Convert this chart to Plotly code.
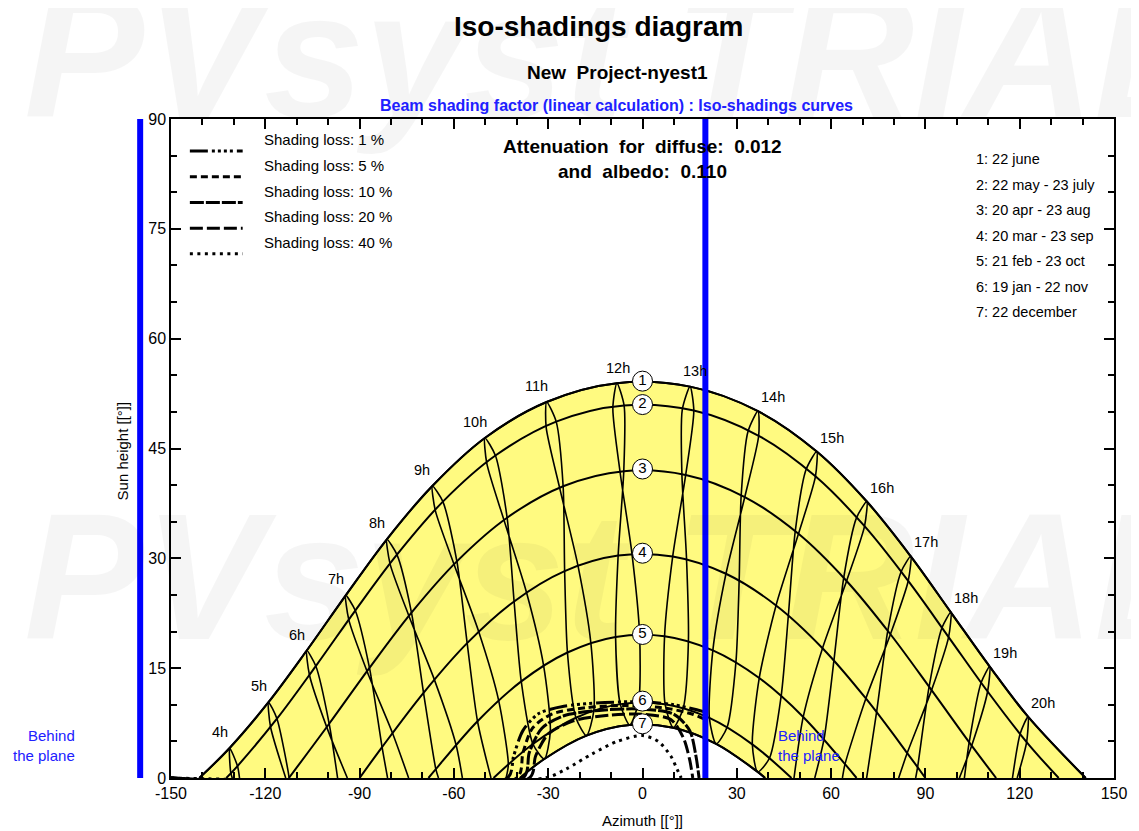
import plotly.graph_objects as go

# ---------------- data ----------------
hours = list(range(4, 21))
hour_labels = [f"{t}h" for t in hours]

x_ticks = [-150, -120, -90, -60, -30, 0, 30, 60, 90, 120, 150]
x_tick_text = ["-150", "-120", "-90", "-60", "-30", "0", "30", "60", "90", "120", "150"]
y_ticks = [0, 15, 30, 45, 60, 75, 90]

date_labels = ["1: 22 june", "2: 22 may - 23 july", "3: 20 apr - 23 aug",
               "4: 20 mar - 23 sep", "5: 21 feb - 23 oct", "6: 19 jan - 22 nov",
               "7: 22 december"]
rise_az = [141.0, 132.4, 112.5, 90.0, 68.1, 47.4, 39.0]
circle_h = [54.2, 51.0, 42.2, 30.7, 19.6, 10.5, 7.4]
N = None

# sun positions at each legal hour 4h..20h  (azimuth, height)
c1_az = [-131.34, -118.98, -106.80, -94.41, -81.33, -66.86, -50.15, -30.51, -8.14,
         15.13, 36.74, 55.43, 71.36, 85.35, 98.10, 110.45, 122.65]
c1_h = [4.10, 10.35, 17.41, 24.94, 32.60, 39.88, 46.44, 51.35, 53.92,
        53.45, 50.10, 44.59, 37.76, 30.27, 22.63, 15.22, 8.38]

c2a_az = [-128.85, -116.29, -103.93, -91.38, -78.12, -63.50, -46.79, -27.46, -5.86,
          16.32, 36.96, 55.02, 70.64, 84.53, 97.38, 109.79, 122.20]
c2a_h = [1.63, 8.10, 15.29, 22.87, 30.50, 37.75, 44.04, 48.67, 50.88,
         50.18, 46.74, 41.20, 34.39, 26.91, 19.25, 11.81, 4.91]
c2b_az = [-130.99, -118.36, -105.97, -93.45, -80.31, -65.92, -49.55, -30.66, -9.43,
          12.66, 33.56, 52.04, 68.07, 82.24, 95.26, 107.74, 120.15]
c2b_h = [0.74, 7.03, 14.10, 21.62, 29.24, 36.55, 43.00, 47.91, 50.52,
         50.30, 47.31, 42.12, 35.52, 28.14, 20.51, 13.03, 6.05]

c3a_az = [N, -112.46, -99.68, -86.86, -73.50, -59.05, -43.07, -25.25, -5.96,
          13.74, 32.54, 49.62, 64.93, 78.88, 91.96, 104.72, N]
c3a_h = [N, 0.05, 7.41, 15.04, 22.59, 29.59, 35.55, 39.85, 41.91,
         41.39, 38.37, 33.35, 26.91, 19.63, 12.00, 4.42, N]
c3b_az = [N, N, -100.46, -87.64, -74.31, -59.94, -44.05, -26.34, -7.14,
          12.54, 31.39, 48.58, 64.00, 78.03, 91.17, 103.94, N]
c3b_h = [N, N, 6.95, 14.58, 22.13, 29.16, 35.19, 39.59, 41.79,
         41.43, 38.57, 33.66, 27.31, 20.08, 12.46, 4.89, N]

c4a_az = [N, N, N, -82.85, -69.66, -55.78, -40.85, -24.77, -7.75,
          9.61, 26.55, 42.49, 57.27, 71.06, 84.21, N, N]
c4a_h = [N, N, N, 4.22, 11.64, 18.42, 24.11, 28.25, 30.38,
         30.26, 27.89, 23.57, 17.73, 10.86, 3.41, N, N]
c4b_az = [N, N, N, -79.54, -66.25, -52.15, -36.94, -20.58, -3.37,
          14.00, 30.76, 46.42, 60.92, 74.48, 87.52, N, N]
c4b_h = [N, N, N, 6.15, 13.47, 20.04, 25.41, 29.10, 30.69,
         29.99, 27.07, 22.29, 16.13, 9.04, 1.48, N, N]

c5a_az = [N, N, N, N, -65.75, -52.49, -38.57, -23.88, -8.56,
          7.02, 22.38, 37.14, 51.13, 64.43, N, N, N]
c5a_h = [N, N, N, N, 1.21, 7.75, 13.19, 17.14, 19.27,
         19.37, 17.43, 13.65, 8.34, 1.89, N, N, N]
c5b_az = [N, N, N, N, -59.32, -45.77, -31.47, -16.44, -0.93,
          14.61, 29.73, 44.13, 57.76, N, N, N, N]
c5b_h = [N, N, N, N, 4.55, 10.61, 15.37, 18.48, 19.63,
         18.72, 15.85, 11.26, 5.33, N, N, N, N]

c6a_az = [N, N, N, N, N, N, -34.86, -21.18, -7.08,
          7.18, 21.27, 34.94, N, N, N, N, N]
c6a_h = [N, N, N, N, N, N, 4.64, 8.23, 10.09,
         10.08, 8.21, 4.60, N, N, N, N, N]
c6b_az = [N, N, N, N, N, -42.69, -29.33, -15.46, -1.25,
          12.98, 26.95, 40.41, N, N, N, N, N]
c6b_h = [N, N, N, N, N, 1.84, 6.33, 9.25, 10.36,
         9.58, 6.97, 2.73, N, N, N, N, N]

c7_az = [N, N, N, N, N, N, -31.24, -17.83, -4.06,
         9.79, 23.43, 36.65, N, N, N, N, N]
c7_h = [N, N, N, N, N, N, 2.60, 5.79, 7.24,
        6.86, 4.67, 0.83, N, N, N, N, N]

# azimuth where each hour line reaches the horizon (first / second half-year)
horizon_a_az = [-128.2, -112.5, -97.0, -81.1, -64.9, -48.2, N, N, N, N, N, N,
                48.2, 63.6, 81.5, 100.8, 119.2]
horizon_b_az = [-130.5, -113.5, -93.9, -74.4, -57.3, -43.4, N, N, N, N, N, N,
                54.8, 71.3, 86.9, 102.4, 117.7]

# iso-shading curves
loss_labels = ["Shading loss: 1 %", "Shading loss: 5 %", "Shading loss: 10 %",
               "Shading loss: 20 %", "Shading loss: 40 %"]
iso1_az = [-150, -43, -41, -38, -33, -25, -12, 0, 10, 20]
iso1_h = [0, 0, 3.0, 6.5, 8.8, 9.8, 10.3, 10.4, 10.0, 9.0]
iso5_az = [-150, -40, -38, -35, -29, -18, -5, 8, 16, 20]
iso5_h = [0, 0, 3.5, 6.8, 8.7, 9.6, 9.9, 9.5, 8.7, 8.0]
iso10_az = [-150, -38, -36, -32, -25, -12, 0, 10, 15, 17, 18]
iso10_h = [0, 0, 3.5, 6.8, 8.5, 9.3, 9.4, 8.7, 6.5, 3.0, 0]
iso20_az = [-150, -36, -34, -30, -22, -10, 0, 9, 13, 15, 16]
iso20_h = [0, 0, 3.0, 6.0, 7.8, 8.6, 8.7, 8.0, 5.5, 2.5, 0]
iso40_az = [-150, -31, -24, -16, -8, 0, 5, 9, 11, 12.3]
iso40_h = [0, 0, 1.3, 3.3, 5.0, 5.8, 5.0, 3.0, 1.2, 0]

plane_az = 20
diffuse_att = "0.012"
albedo_att = "0.110"

# ---------------- styling ----------------
FONT = "Liberation Sans, Arial, sans-serif"
YELLOW = "rgb(255,250,128)"
BLUE = "#0000ff"
TBLUE = "#2020ff"

date_a = [(c1_az, c1_h), (c2a_az, c2a_h), (c3a_az, c3a_h), (c4a_az, c4a_h),
          (c5a_az, c5a_h), (c6a_az, c6a_h), (c7_az, c7_h)]
date_b = [(c1_az, c1_h), (c2b_az, c2b_h), (c3b_az, c3b_h), (c4b_az, c4b_h),
          (c5b_az, c5b_h), (c6b_az, c6b_h), (c7_az, c7_h)]

fig = go.Figure()


def date_curve(k):
    az, h = date_a[k]
    xs = [-rise_az[k]] + [a for a, v in zip(az, h) if a is not None and v >= 0.5] + [rise_az[k]]
    ys = [0] + [v for a, v in zip(az, h) if a is not None and v >= 0.5] + [0]
    return xs, ys


# yellow area (under June path) and white area (under December path)
x1, y1 = date_curve(0)
fig.add_trace(go.Scatter(x=x1, y=y1, mode="lines", fill="tozeroy", fillcolor=YELLOW,
                         line=dict(color="black", width=2, shape="spline"), hoverinfo="skip"))
x7, y7 = date_curve(6)
fig.add_trace(go.Scatter(x=x7, y=y7, mode="lines", fill="tozeroy", fillcolor="white",
                         line=dict(color="black", width=2, shape="spline"), hoverinfo="skip"))

# hour lines (analemma loops)
for i, t in enumerate(hours):
    xs, ys = [], []
    if horizon_a_az[i] is not None:
        xs.append(horizon_a_az[i]); ys.append(0)
    for k in range(6, 0, -1):
        az, h = date_a[k]
        if az[i] is not None:
            xs.append(az[i]); ys.append(h[i])
    xs.append(c1_az[i]); ys.append(c1_h[i])
    for k in range(1, 7):
        az, h = date_b[k]
        if az[i] is not None:
            xs.append(az[i]); ys.append(h[i])
    if horizon_b_az[i] is not None:
        xs.append(horizon_b_az[i]); ys.append(0)
    fig.add_trace(go.Scatter(x=xs, y=ys, mode="lines", hoverinfo="skip",
                             line=dict(color="black", width=1.6, shape="spline", smoothing=0.7)))

# date curves
for k in range(7):
    xs, ys = date_curve(k)
    fig.add_trace(go.Scatter(x=xs, y=ys, mode="lines", hoverinfo="skip",
                             line=dict(color="black", width=2, shape="spline")))

# iso-shading curves
iso_sets = [(iso1_az, iso1_h), (iso5_az, iso5_h), (iso10_az, iso10_h),
            (iso20_az, iso20_h), (iso40_az, iso40_h)]
dashes = ["18px,4px,3px,3px,3px,3px,3px,3px,3px,4px", "7px,4px", "14px,2px",
          "13px,4px", "3px,4.5px"]
for (az, h), d in zip(iso_sets, dashes):
    fig.add_trace(go.Scatter(x=az, y=h, mode="lines", hoverinfo="skip",
                             line=dict(color="black", width=3, dash=d, shape="spline", smoothing=0.8)))

# numbered circles at azimuth 0
fig.add_trace(go.Scatter(x=[0] * 7, y=circle_h, mode="markers+text",
                         text=[str(k + 1) for k in range(7)], textposition="middle center",
                         textfont=dict(family=FONT, size=15, color="black"),
                         marker=dict(size=20, color="white", line=dict(color="black", width=1)),
                         hoverinfo="skip", cliponaxis=False))

shapes = []
# plane orientation lines
shapes.append(dict(type="line", xref="x", yref="y", x0=plane_az, x1=plane_az, y0=0, y1=90,
                   line=dict(color=BLUE, width=6)))
shapes.append(dict(type="line", xref="paper", yref="y", x0=-0.0327, x1=-0.0327, y0=0, y1=90,
                   line=dict(color=BLUE, width=6)))

annotations = []


def ann(x, y, text, size, color="black", xanchor="center", yanchor="middle", **kw):
    d = dict(xref="paper", yref="paper", x=x, y=y, text=text, showarrow=False,
             xanchor=xanchor, yanchor=yanchor, font=dict(family=FONT, size=size, color=color))
    d.update(kw)
    annotations.append(d)


# faint watermark (drawn first)
for wy in [1.098, 0.3065]:
    ann(0.47, wy, "<b><i>PVsyst TRIAL</i></b>", 180, color="rgba(0,0,0,0.04)")

# legend of shading losses (top-left)
for j, (lab, d) in enumerate(zip(loss_labels, dashes)):
    yl = 0.9514 - j * 0.039
    shapes.append(dict(type="line", xref="paper", yref="paper", x0=0.020, x1=0.076,
                       y0=yl, y1=yl, line=dict(color="black", width=3, dash=d)))
    ann(0.0961, yl + 0.017, lab, 15, xanchor="left")

# legend of dates (top-right)
for j, lab in enumerate(date_labels):
    ann(0.852, 0.939 - j * 0.0387, lab, 14.5, xanchor="left")

# hour labels near the June path
for i, t in enumerate(hours):
    if t <= 11:
        xs_, ys_ = -10, 16
    elif t == 12:
        xs_, ys_ = 1, 15
    elif t == 13:
        xs_, ys_ = 5, 16
    else:
        xs_, ys_ = 15, 14
    annotations.append(dict(x=c1_az[i], y=c1_h[i], text=hour_labels[i], showarrow=False,
                            xshift=xs_, yshift=ys_, xanchor="center", yanchor="middle",
                            font=dict(family=FONT, size=14.5, color="black")))

# attenuation text
ann(0.5, 0.959, "<b>Attenuation  for  diffuse:  " + diffuse_att + "</b>", 19)
ann(0.5, 0.9196, "<b>and  albedo:  " + albedo_att + "</b>", 19)

# titles
ann(0.453, 1.141, "<b>Iso-shadings diagram</b>", 28)
ann(0.474, 1.070, "<b>New  Project-nyest1</b>", 19)
ann(0.472, 1.021, "<b>Beam shading factor (linear calculation) : Iso-shadings curves</b>", 16,
    color=TBLUE)

# behind the plane
ann(-0.0993, 0.0486, "Behind<br>the plane", 15, color=TBLUE, xanchor="right", align="right")
ann(0.642, 0.0486, "Behind<br>the plane", 15, color=TBLUE, xanchor="left", align="left")

# axis titles
ann(0.5, -0.065, "Azimuth [[°]]", 15)
ann(-0.0517, 0.496, "Sun height [[°]]", 15, textangle=-90)

fig.update_layout(
    width=1131, height=823,
    margin=dict(l=163, r=21, t=111, b=53),
    paper_bgcolor="white", plot_bgcolor="white",
    showlegend=False,
    font=dict(family=FONT, size=15, color="black"),
    shapes=shapes, annotations=annotations,
    xaxis=dict(range=[-150, 150], tickmode="array", tickvals=x_ticks, ticktext=x_tick_text,
               ticks="inside", ticklen=10, tickwidth=1.5, tickcolor="black",
               showline=True, linecolor="black", linewidth=1.5, mirror="ticks",
               showgrid=False, zeroline=False, tickfont=dict(family=FONT, size=16),
               minor=dict(dtick=10, ticks="inside", ticklen=6, tickwidth=1.5, tickcolor="black",
                          showgrid=False)),
    yaxis=dict(range=[0, 90], tickmode="array", tickvals=y_ticks,
               ticks="inside", ticklen=10, tickwidth=1.5, tickcolor="black",
               showline=True, linecolor="black", linewidth=1.5, mirror="ticks",
               showgrid=False, zeroline=False, tickfont=dict(family=FONT, size=16),
               minor=dict(dtick=5, ticks="inside", ticklen=6, tickwidth=1.5, tickcolor="black",
                          showgrid=False)),
)

fig.write_html("out.html")
